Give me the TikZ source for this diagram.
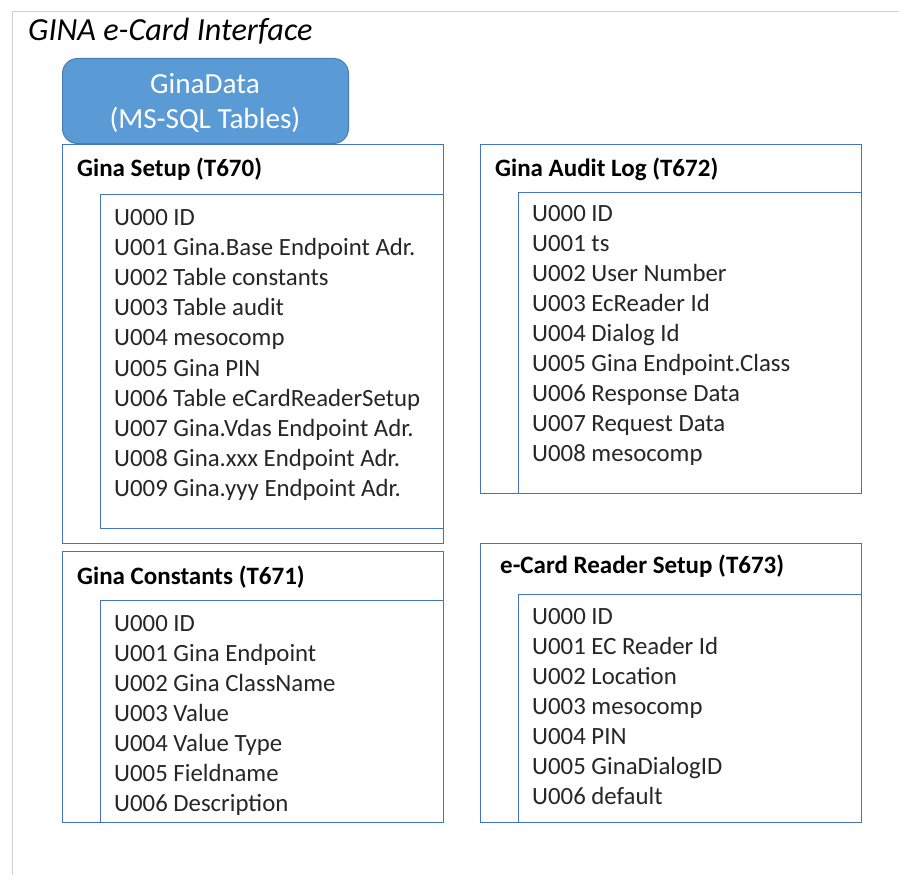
\documentclass[tikz,border=0pt]{standalone}
\usepackage{fontspec}
\setmainfont{Carlito}
\definecolor{boxblue}{HTML}{4472C4}
\definecolor{hdrfill}{HTML}{5B9BD5}
\definecolor{hdrline}{HTML}{4A7DB5}
\definecolor{framegray}{HTML}{D0D0D0}
\definecolor{itemtext}{HTML}{262626}
\begin{document}
\begin{tikzpicture}[x=1pt,y=-1pt,
  tblbox/.style={draw=boxblue,line width=1.3pt,anchor=north west,inner sep=0pt},
  hdr/.style={draw=hdrline,fill=hdrfill,line width=1pt,rounded corners=15pt,anchor=north west,inner sep=0pt,minimum width=286pt,minimum height=85pt},
  hdrtxt/.style={anchor=base,inner sep=0pt,text=white,font=\fontsize{29.2}{35}\selectfont},
  tbltitle/.style={anchor=base west,inner sep=0pt,font=\fontsize{25}{30}\selectfont\bfseries,text=black},
  item/.style={anchor=base west,inner sep=0pt,font=\fontsize{24.8}{30}\selectfont,text=itemtext},
  maintitle/.style={anchor=base west,inner sep=0pt,font=\fontsize{32.2}{38}\selectfont\itshape,text=black}]
\useasboundingbox (0,0) rectangle (899,875);
\fill[white] (0,0) rectangle (899,875);
\draw[framegray,line width=1pt] (12,875) -- (12,12) -- (899,12);
\node[maintitle] (title) at (28,40.7) {GINA e-Card Interface};
% header
\node[hdr] (ginadata) at (62,58) {};
\node[hdrtxt] (gd1) at (205,93) {GinaData};
\node[hdrtxt] (gd2) at (205,128.5) {(MS-SQL Tables)};
% Gina Setup
\node[tblbox,minimum width=381pt,minimum height=399pt] (setup) at (62,144) {};
\node[tblbox,minimum width=343pt,minimum height=334pt] (setupin) at (100,194) {};
\node[tbltitle] (setupt) at (77,176) {Gina Setup (T670)};
\foreach [count=\i from 0] \t in {U000 ID,U001 Gina.Base Endpoint Adr.,U002 Table constants,U003 Table audit,U004 mesocomp,U005 Gina PIN,U006 Table eCardReaderSetup,U007 Gina.Vdas Endpoint Adr.,U008 Gina.xxx Endpoint Adr.,U009 Gina.yyy Endpoint Adr.}
  \node[item] (s\i) at (114,225+30.2*\i) {\t};
% Gina Audit Log
\node[tblbox,minimum width=381pt,minimum height=349pt] (audit) at (480,144) {};
\node[tblbox,minimum width=343pt,minimum height=301pt] (auditin) at (518,192) {};
\node[tbltitle] (auditt) at (495,176) {Gina Audit Log (T672)};
\foreach [count=\i from 0] \t in {U000 ID,U001 ts,U002 User Number,U003 EcReader Id,U004 Dialog Id,U005 Gina Endpoint.Class,U006 Response Data,U007 Request Data,U008 mesocomp}
  \node[item] (a\i) at (532,221.7+30*\i) {\t};
% Gina Constants
\node[tblbox,minimum width=381pt,minimum height=271pt] (const) at (62,551) {};
\node[tblbox,minimum width=343pt,minimum height=222pt] (constin) at (100,600) {};
\node[tbltitle] (constt) at (77,584) {Gina Constants (T671)};
\foreach [count=\i from 0] \t in {U000 ID,U001 Gina Endpoint,U002 Gina ClassName,U003 Value,U004 Value Type,U005 Fieldname,U006 Description}
  \node[item] (c\i) at (114,631+30*\i) {\t};
% e-Card Reader Setup
\node[tblbox,minimum width=381pt,minimum height=279pt] (ecard) at (480,543) {};
\node[tblbox,minimum width=343pt,minimum height=228pt] (ecardin) at (518,594) {};
\node[tbltitle] (ecardt) at (500,573) {e-Card Reader Setup (T673)};
\foreach [count=\i from 0] \t in {U000 ID,U001 EC Reader Id,U002 Location,U003 mesocomp,U004 PIN,U005 GinaDialogID,U006 default}
  \node[item] (e\i) at (532,624+30*\i) {\t};
\end{tikzpicture}
\end{document}
